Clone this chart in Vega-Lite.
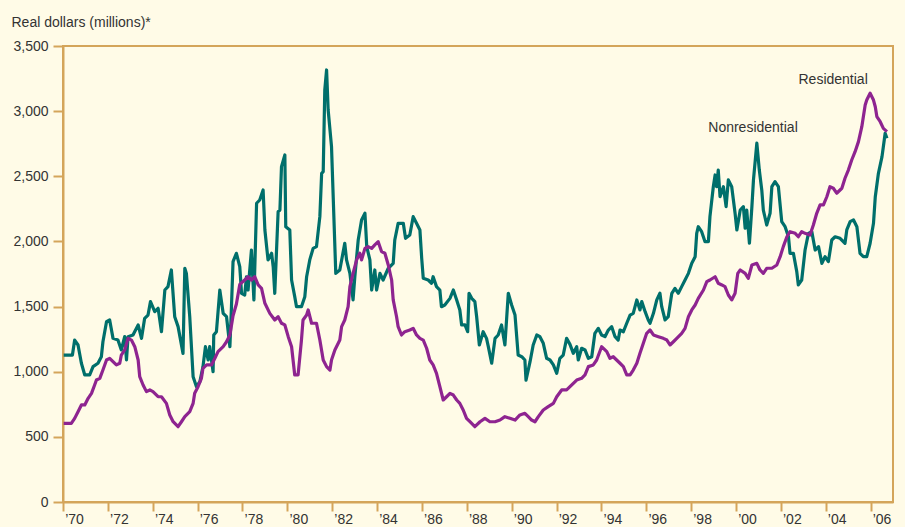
{
  "$schema": "https://vega.github.io/schema/vega-lite/v6.json",
  "autosize": "none",
  "width": 830,
  "height": 456,
  "padding": {"left": 63, "top": 46, "right": 12, "bottom": 25},
  "background": "#FFFBE7",
  "config": {
    "view": {"stroke": "#D4A55A", "strokeWidth": 2, "fill": "#FFFBE7"},
    "font": "Liberation Sans Narrow, Liberation Sans, Arial"
  },
  "datasets": {
    "nonres": [
      {"t":1970.03,"v":1128},{"t":1970.42,"v":1128},{"t":1970.52,"v":1243},{"t":1970.67,"v":1205},{"t":1970.82,"v":1065},{"t":1970.97,"v":975},{"t":1971.19,"v":975},{"t":1971.34,"v":1039},{"t":1971.56,"v":1065},{"t":1971.71,"v":1115},{"t":1971.78,"v":1230},{"t":1971.94,"v":1384},{"t":1972.08,"v":1397},{"t":1972.23,"v":1256},{"t":1972.45,"v":1243},{"t":1972.6,"v":1167},{"t":1972.75,"v":1269},{"t":1972.83,"v":1090},{"t":1972.9,"v":1269},{"t":1973.12,"v":1282},{"t":1973.35,"v":1359},{"t":1973.5,"v":1256},{"t":1973.64,"v":1410},{"t":1973.79,"v":1435},{"t":1973.9,"v":1538},{"t":1974.09,"v":1461},{"t":1974.24,"v":1487},{"t":1974.39,"v":1307},{"t":1974.54,"v":1627},{"t":1974.68,"v":1653},{"t":1974.83,"v":1781},{"t":1974.98,"v":1422},{"t":1975.13,"v":1346},{"t":1975.35,"v":1141},{"t":1975.43,"v":1794},{"t":1975.5,"v":1755},{"t":1975.65,"v":1422},{"t":1975.8,"v":962},{"t":1975.95,"v":885},{"t":1976.1,"v":923},{"t":1976.24,"v":1039},{"t":1976.35,"v":1192},{"t":1976.47,"v":1090},{"t":1976.54,"v":1192},{"t":1976.69,"v":1000},{"t":1976.72,"v":1282},{"t":1976.84,"v":1307},{"t":1976.99,"v":1627},{"t":1977.14,"v":1448},{"t":1977.29,"v":1422},{"t":1977.44,"v":1192},{"t":1977.51,"v":1499},{"t":1977.58,"v":1845},{"t":1977.73,"v":1909},{"t":1977.88,"v":1806},{"t":1977.96,"v":1602},{"t":1978.1,"v":1589},{"t":1978.18,"v":1729},{"t":1978.25,"v":1627},{"t":1978.4,"v":1934},{"t":1978.51,"v":1551},{"t":1978.63,"v":2293},{"t":1978.77,"v":2318},{"t":1978.92,"v":2395},{"t":1979.0,"v":2088},{"t":1979.14,"v":1858},{"t":1979.3,"v":1909},{"t":1979.37,"v":1806},{"t":1979.44,"v":1602},{"t":1979.59,"v":2228},{"t":1979.67,"v":2241},{"t":1979.74,"v":2574},{"t":1979.89,"v":2664},{"t":1979.93,"v":2113},{"t":1980.11,"v":2088},{"t":1980.19,"v":1704},{"t":1980.33,"v":1576},{"t":1980.41,"v":1499},{"t":1980.63,"v":1499},{"t":1980.78,"v":1576},{"t":1980.86,"v":1729},{"t":1981.0,"v":1858},{"t":1981.15,"v":1947},{"t":1981.3,"v":1960},{"t":1981.45,"v":2190},{"t":1981.53,"v":2523},{"t":1981.6,"v":2536},{"t":1981.67,"v":3163},{"t":1981.75,"v":3316},{"t":1981.82,"v":3009},{"t":1981.97,"v":2727},{"t":1982.16,"v":1755},{"t":1982.34,"v":1781},{"t":1982.56,"v":1986},{"t":1982.64,"v":1858},{"t":1982.79,"v":1755},{"t":1982.93,"v":1551},{"t":1983.01,"v":1729},{"t":1983.16,"v":2011},{"t":1983.31,"v":2165},{"t":1983.46,"v":2216},{"t":1983.54,"v":1960},{"t":1983.68,"v":1858},{"t":1983.76,"v":1627},{"t":1983.9,"v":1781},{"t":1983.98,"v":1627},{"t":1984.13,"v":1755},{"t":1984.27,"v":1704},{"t":1984.5,"v":1794},{"t":1984.72,"v":1832},{"t":1984.79,"v":2011},{"t":1984.94,"v":2139},{"t":1985.17,"v":2139},{"t":1985.27,"v":2024},{"t":1985.46,"v":2049},{"t":1985.61,"v":2190},{"t":1985.76,"v":2139},{"t":1985.91,"v":2088},{"t":1985.99,"v":1871},{"t":1986.06,"v":1717},{"t":1986.28,"v":1704},{"t":1986.43,"v":1679},{"t":1986.5,"v":1729},{"t":1986.65,"v":1653},{"t":1986.8,"v":1627},{"t":1986.87,"v":1499},{"t":1987.02,"v":1512},{"t":1987.25,"v":1563},{"t":1987.4,"v":1627},{"t":1987.55,"v":1551},{"t":1987.69,"v":1474},{"t":1987.77,"v":1359},{"t":1987.92,"v":1359},{"t":1988.04,"v":1307},{"t":1988.1,"v":1602},{"t":1988.22,"v":1563},{"t":1988.36,"v":1538},{"t":1988.44,"v":1422},{"t":1988.56,"v":1205},{"t":1988.73,"v":1307},{"t":1988.88,"v":1256},{"t":1988.96,"v":1192},{"t":1989.11,"v":1065},{"t":1989.26,"v":1256},{"t":1989.4,"v":1282},{"t":1989.55,"v":1359},{"t":1989.7,"v":1205},{"t":1989.85,"v":1602},{"t":1990.0,"v":1512},{"t":1990.15,"v":1435},{"t":1990.29,"v":1128},{"t":1990.45,"v":1115},{"t":1990.59,"v":1090},{"t":1990.64,"v":936},{"t":1990.74,"v":1013},{"t":1990.82,"v":1077},{"t":1990.96,"v":1205},{"t":1991.12,"v":1282},{"t":1991.26,"v":1269},{"t":1991.41,"v":1218},{"t":1991.56,"v":1103},{"t":1991.71,"v":1090},{"t":1991.86,"v":1052},{"t":1992.01,"v":988},{"t":1992.15,"v":1103},{"t":1992.3,"v":1128},{"t":1992.45,"v":1256},{"t":1992.6,"v":1210},{"t":1992.75,"v":1141},{"t":1992.9,"v":1192},{"t":1992.97,"v":1090},{"t":1993.12,"v":1180},{"t":1993.27,"v":1167},{"t":1993.42,"v":1103},{"t":1993.57,"v":1115},{"t":1993.71,"v":1295},{"t":1993.86,"v":1333},{"t":1994.01,"v":1282},{"t":1994.16,"v":1269},{"t":1994.31,"v":1320},{"t":1994.46,"v":1346},{"t":1994.61,"v":1269},{"t":1994.75,"v":1243},{"t":1994.83,"v":1320},{"t":1994.98,"v":1307},{"t":1995.13,"v":1372},{"t":1995.28,"v":1435},{"t":1995.42,"v":1448},{"t":1995.58,"v":1551},{"t":1995.72,"v":1474},{"t":1995.8,"v":1538},{"t":1995.95,"v":1461},{"t":1996.09,"v":1397},{"t":1996.17,"v":1372},{"t":1996.32,"v":1448},{"t":1996.47,"v":1551},{"t":1996.61,"v":1602},{"t":1996.69,"v":1499},{"t":1996.84,"v":1397},{"t":1996.98,"v":1422},{"t":1997.14,"v":1602},{"t":1997.28,"v":1640},{"t":1997.43,"v":1602},{"t":1997.58,"v":1653},{"t":1997.73,"v":1704},{"t":1997.88,"v":1755},{"t":1998.03,"v":1832},{"t":1998.18,"v":1883},{"t":1998.25,"v":2062},{"t":1998.32,"v":2113},{"t":1998.47,"v":2075},{"t":1998.62,"v":1998},{"t":1998.77,"v":1998},{"t":1998.84,"v":2190},{"t":1998.99,"v":2420},{"t":1999.07,"v":2510},{"t":1999.14,"v":2420},{"t":1999.21,"v":2548},{"t":1999.29,"v":2343},{"t":1999.44,"v":2420},{"t":1999.56,"v":2267},{"t":1999.66,"v":2472},{"t":1999.81,"v":2420},{"t":1999.96,"v":2216},{"t":2000.04,"v":2088},{"t":2000.19,"v":2241},{"t":2000.33,"v":2267},{"t":2000.41,"v":2101},{"t":2000.48,"v":2241},{"t":2000.6,"v":1986},{"t":2000.71,"v":2267},{"t":2000.78,"v":2472},{"t":2000.93,"v":2754},{"t":2001.04,"v":2548},{"t":2001.15,"v":2395},{"t":2001.22,"v":2241},{"t":2001.37,"v":2126},{"t":2001.52,"v":2216},{"t":2001.6,"v":2420},{"t":2001.74,"v":2459},{"t":2001.89,"v":2420},{"t":2002.04,"v":2152},{"t":2002.19,"v":2113},{"t":2002.34,"v":2036},{"t":2002.41,"v":1909},{"t":2002.56,"v":1909},{"t":2002.71,"v":1768},{"t":2002.78,"v":1666},{"t":2002.93,"v":1704},{"t":2003.08,"v":1934},{"t":2003.23,"v":2062},{"t":2003.38,"v":2075},{"t":2003.53,"v":1934},{"t":2003.68,"v":1960},{"t":2003.83,"v":1832},{"t":2003.97,"v":1883},{"t":2004.12,"v":1845},{"t":2004.27,"v":2011},{"t":2004.42,"v":2036},{"t":2004.64,"v":2024},{"t":2004.86,"v":1986},{"t":2004.94,"v":2088},{"t":2005.09,"v":2152},{"t":2005.24,"v":2165},{"t":2005.39,"v":2113},{"t":2005.53,"v":1909},{"t":2005.68,"v":1883},{"t":2005.83,"v":1883},{"t":2005.98,"v":1986},{"t":2006.13,"v":2139},{"t":2006.21,"v":2343},{"t":2006.35,"v":2523},{"t":2006.51,"v":2651},{"t":2006.61,"v":2779},{"t":2006.65,"v":2830},{"t":2006.73,"v":2792}
    ],
    "res": [
      {"t":1970.03,"v":604},{"t":1970.37,"v":604},{"t":1970.52,"v":642},{"t":1970.67,"v":693},{"t":1970.82,"v":745},{"t":1970.97,"v":745},{"t":1971.12,"v":796},{"t":1971.27,"v":834},{"t":1971.41,"v":898},{"t":1971.49,"v":936},{"t":1971.64,"v":949},{"t":1971.78,"v":1013},{"t":1971.94,"v":1090},{"t":1972.08,"v":1103},{"t":1972.23,"v":1077},{"t":1972.38,"v":1052},{"t":1972.53,"v":1065},{"t":1972.6,"v":1128},{"t":1972.75,"v":1167},{"t":1972.9,"v":1256},{"t":1973.05,"v":1243},{"t":1973.2,"v":1192},{"t":1973.35,"v":1090},{"t":1973.42,"v":962},{"t":1973.57,"v":898},{"t":1973.72,"v":847},{"t":1973.87,"v":860},{"t":1974.01,"v":847},{"t":1974.24,"v":808},{"t":1974.39,"v":808},{"t":1974.61,"v":757},{"t":1974.76,"v":668},{"t":1974.91,"v":616},{"t":1975.13,"v":578},{"t":1975.28,"v":616},{"t":1975.43,"v":655},{"t":1975.65,"v":693},{"t":1975.8,"v":757},{"t":1975.87,"v":834},{"t":1976.02,"v":885},{"t":1976.17,"v":949},{"t":1976.24,"v":1026},{"t":1976.4,"v":1052},{"t":1976.62,"v":1052},{"t":1976.77,"v":1103},{"t":1976.91,"v":1154},{"t":1977.14,"v":1192},{"t":1977.29,"v":1230},{"t":1977.44,"v":1282},{"t":1977.58,"v":1430},{"t":1977.73,"v":1520},{"t":1977.88,"v":1670},{"t":1978.1,"v":1704},{"t":1978.25,"v":1729},{"t":1978.4,"v":1704},{"t":1978.55,"v":1729},{"t":1978.7,"v":1666},{"t":1978.85,"v":1640},{"t":1979.0,"v":1525},{"t":1979.22,"v":1448},{"t":1979.44,"v":1397},{"t":1979.59,"v":1422},{"t":1979.74,"v":1372},{"t":1979.89,"v":1359},{"t":1980.04,"v":1269},{"t":1980.19,"v":1192},{"t":1980.33,"v":975},{"t":1980.48,"v":975},{"t":1980.63,"v":1243},{"t":1980.7,"v":1397},{"t":1980.86,"v":1435},{"t":1980.93,"v":1474},{"t":1981.08,"v":1372},{"t":1981.3,"v":1372},{"t":1981.45,"v":1243},{"t":1981.6,"v":1090},{"t":1981.75,"v":1039},{"t":1981.9,"v":1013},{"t":1981.97,"v":1090},{"t":1982.12,"v":1167},{"t":1982.34,"v":1243},{"t":1982.42,"v":1346},{"t":1982.56,"v":1397},{"t":1982.71,"v":1499},{"t":1982.79,"v":1653},{"t":1982.93,"v":1755},{"t":1983.09,"v":1858},{"t":1983.23,"v":1909},{"t":1983.31,"v":1858},{"t":1983.46,"v":1947},{"t":1983.6,"v":1960},{"t":1983.76,"v":1947},{"t":1983.9,"v":1973},{"t":1984.05,"v":1998},{"t":1984.2,"v":1922},{"t":1984.35,"v":1909},{"t":1984.5,"v":1819},{"t":1984.65,"v":1704},{"t":1984.72,"v":1551},{"t":1984.87,"v":1422},{"t":1984.94,"v":1346},{"t":1985.09,"v":1282},{"t":1985.24,"v":1307},{"t":1985.46,"v":1320},{"t":1985.61,"v":1333},{"t":1985.76,"v":1282},{"t":1985.91,"v":1256},{"t":1986.06,"v":1243},{"t":1986.21,"v":1180},{"t":1986.35,"v":1090},{"t":1986.5,"v":1052},{"t":1986.65,"v":988},{"t":1986.8,"v":885},{"t":1986.95,"v":783},{"t":1987.1,"v":808},{"t":1987.25,"v":834},{"t":1987.4,"v":821},{"t":1987.55,"v":783},{"t":1987.69,"v":757},{"t":1987.84,"v":706},{"t":1987.99,"v":642},{"t":1988.14,"v":616},{"t":1988.36,"v":578},{"t":1988.59,"v":616},{"t":1988.81,"v":642},{"t":1989.03,"v":616},{"t":1989.26,"v":616},{"t":1989.48,"v":629},{"t":1989.7,"v":655},{"t":1989.92,"v":642},{"t":1990.15,"v":629},{"t":1990.37,"v":668},{"t":1990.59,"v":681},{"t":1990.74,"v":655},{"t":1990.89,"v":629},{"t":1991.04,"v":616},{"t":1991.19,"v":655},{"t":1991.41,"v":706},{"t":1991.63,"v":732},{"t":1991.86,"v":757},{"t":1992.01,"v":808},{"t":1992.23,"v":860},{"t":1992.45,"v":860},{"t":1992.6,"v":885},{"t":1992.75,"v":911},{"t":1992.9,"v":936},{"t":1993.12,"v":949},{"t":1993.27,"v":975},{"t":1993.42,"v":1039},{"t":1993.64,"v":1052},{"t":1993.79,"v":1090},{"t":1994.01,"v":1192},{"t":1994.24,"v":1154},{"t":1994.38,"v":1103},{"t":1994.53,"v":1115},{"t":1994.68,"v":1090},{"t":1994.83,"v":1065},{"t":1994.98,"v":1039},{"t":1995.13,"v":975},{"t":1995.28,"v":975},{"t":1995.42,"v":1013},{"t":1995.58,"v":1065},{"t":1995.72,"v":1141},{"t":1995.87,"v":1218},{"t":1996.02,"v":1295},{"t":1996.17,"v":1320},{"t":1996.32,"v":1282},{"t":1996.54,"v":1269},{"t":1996.76,"v":1256},{"t":1996.92,"v":1243},{"t":1997.06,"v":1205},{"t":1997.21,"v":1230},{"t":1997.36,"v":1256},{"t":1997.58,"v":1295},{"t":1997.73,"v":1333},{"t":1997.88,"v":1422},{"t":1998.03,"v":1474},{"t":1998.18,"v":1512},{"t":1998.32,"v":1563},{"t":1998.55,"v":1627},{"t":1998.7,"v":1691},{"t":1998.84,"v":1704},{"t":1999.07,"v":1729},{"t":1999.21,"v":1679},{"t":1999.37,"v":1666},{"t":1999.51,"v":1653},{"t":1999.66,"v":1589},{"t":1999.81,"v":1551},{"t":1999.96,"v":1602},{"t":2000.08,"v":1755},{"t":2000.19,"v":1781},{"t":2000.41,"v":1755},{"t":2000.55,"v":1717},{"t":2000.71,"v":1819},{"t":2000.93,"v":1832},{"t":2001.07,"v":1781},{"t":2001.22,"v":1755},{"t":2001.37,"v":1794},{"t":2001.6,"v":1794},{"t":2001.82,"v":1819},{"t":2001.97,"v":1883},{"t":2002.11,"v":1960},{"t":2002.27,"v":2036},{"t":2002.41,"v":2075},{"t":2002.64,"v":2062},{"t":2002.78,"v":2036},{"t":2002.93,"v":2075},{"t":2003.08,"v":2062},{"t":2003.3,"v":2049},{"t":2003.45,"v":2126},{"t":2003.6,"v":2216},{"t":2003.75,"v":2280},{"t":2003.9,"v":2280},{"t":2004.05,"v":2343},{"t":2004.19,"v":2420},{"t":2004.34,"v":2408},{"t":2004.49,"v":2370},{"t":2004.72,"v":2408},{"t":2004.86,"v":2485},{"t":2005.01,"v":2548},{"t":2005.16,"v":2625},{"t":2005.31,"v":2689},{"t":2005.46,"v":2766},{"t":2005.61,"v":2881},{"t":2005.68,"v":2958},{"t":2005.76,"v":3047},{"t":2005.83,"v":3085},{"t":2005.98,"v":3137},{"t":2006.13,"v":3085},{"t":2006.21,"v":3034},{"t":2006.28,"v":2958},{"t":2006.43,"v":2919},{"t":2006.57,"v":2868},{"t":2006.73,"v":2843}
    ],
    "labels": [
      {"label": "Nonresidential", "t": 2000.76, "v": 2871},
      {"label": "Residential", "t": 2004.33, "v": 3239}
    ]
  },
  "layer": [
    {
      "data": {"name": "nonres"},
      "mark": {"type": "line", "color": "#006F6B", "strokeWidth": 3.2, "strokeJoin": "round"},
      "encoding": {
        "x": {
          "field": "t", "type": "quantitative",
          "scale": {"domain": [1970, 2007], "nice": false, "zero": false},
          "axis": {
            "title": null,
            "values": [1970,1971,1972,1973,1974,1975,1976,1977,1978,1979,1980,1981,1982,1983,1984,1985,1986,1987,1988,1989,1990,1991,1992,1993,1994,1995,1996,1997,1998,1999,2000,2001,2002,2003,2004,2005,2006,2007],
            "labelExpr": "(datum.value % 2 == 0 && datum.value < 2007) ? '’' + substring(toString(datum.value), 2, 4) : ''",
            "labelOffset": 11,
            "labelFontSize": 14,
            "labelColor": "#333333",
            "labelPadding": 1,
            "labelFlush": false,
            "labelOverlap": false,
            "grid": false,
            "domain": true,
            "domainColor": "#D4A55A",
            "domainWidth": 2,
            "tickSize": 9,
            "tickColor": {"condition": {"test": "datum.value % 2 == 0", "value": "#D4A55A"}, "value": "#E2C186"},
            "tickWidth": 2
          }
        },
        "y": {
          "field": "v", "type": "quantitative",
          "scale": {"domain": [0, 3500], "nice": false},
          "axis": {
            "title": "Real dollars (millions)*",
            "titleAngle": 0,
            "titleAlign": "left",
            "titleBaseline": "middle",
            "titleX": -52,
            "titleY": -24,
            "titleFontSize": 14,
            "titleFontWeight": "normal",
            "titleColor": "#333333",
            "values": [0, 500, 1000, 1500, 2000, 2500, 3000, 3500],
            "format": ",.0f",
            "labelFontSize": 14,
            "labelColor": "#333333",
            "labelPadding": 5,
            "grid": false,
            "domainColor": "#D4A55A",
            "domainWidth": 2,
            "tickSize": 10,
            "tickColor": "#D4A55A",
            "tickWidth": 2
          }
        }
      }
    },
    {
      "data": {"name": "res"},
      "mark": {"type": "line", "color": "#8E2490", "strokeWidth": 3.2, "strokeJoin": "round"},
      "encoding": {
        "x": {"field": "t", "type": "quantitative"},
        "y": {"field": "v", "type": "quantitative"}
      }
    },
    {
      "data": {"name": "labels"},
      "mark": {"type": "text", "fontSize": 14, "color": "#333333", "align": "center", "baseline": "middle"},
      "encoding": {
        "x": {"field": "t", "type": "quantitative"},
        "y": {"field": "v", "type": "quantitative"},
        "text": {"field": "label"}
      }
    }
  ]
}
